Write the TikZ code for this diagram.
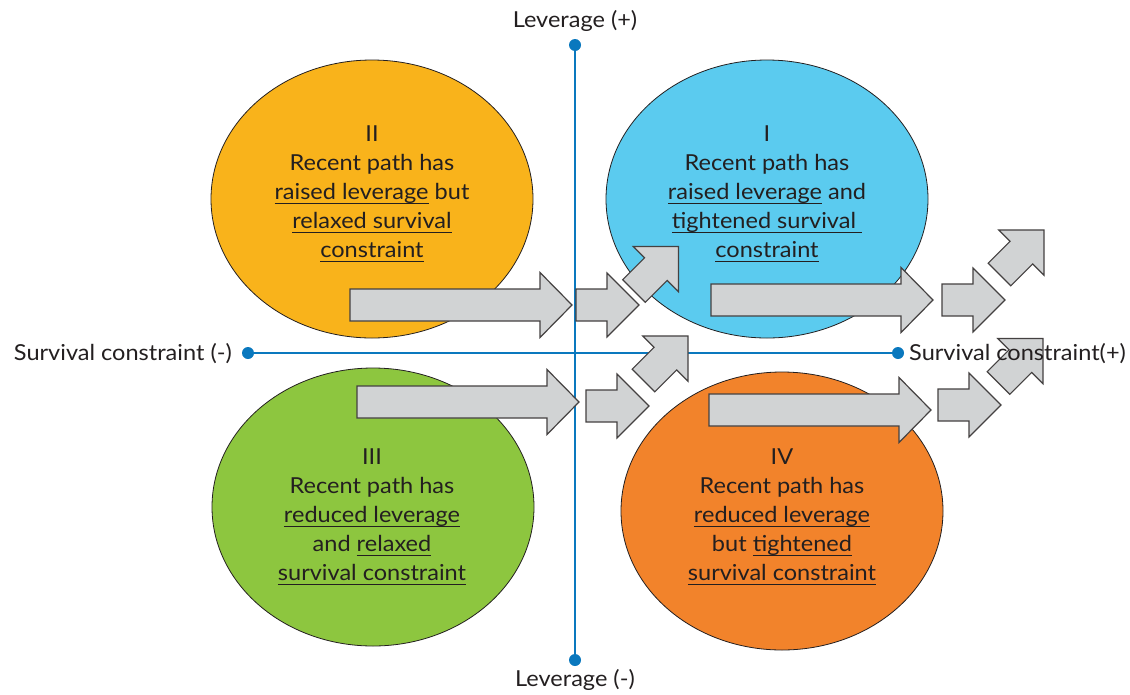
\documentclass[tikz,border=0pt]{standalone}
\usepackage{fontspec}
\setmainfont{Lato}[FakeStretch=1.07]
\usetikzlibrary{shapes.geometric}

\definecolor{qyellow}{HTML}{F9B31B}
\definecolor{qcyan}{HTML}{5BCBEF}
\definecolor{qgreen}{HTML}{8DC63F}
\definecolor{qorange}{HTML}{F2832B}
\definecolor{axisblue}{HTML}{0A78BE}
\definecolor{arrowgray}{HTML}{D1D3D4}
\definecolor{ink}{HTML}{231F20}

% underline at a fixed depth below the baseline
\newsavebox\ulbox
\newcommand\ulc[1]{\sbox\ulbox{#1}\rlap{\rule[-4.8pt]{\wd\ulbox}{1.2pt}}\usebox\ulbox}

\tikzset{
  quad/.style={ellipse, draw=ink, line width=0.8pt, minimum width=322pt, minimum height=278pt, inner sep=0pt},
  quadtext/.style={align=center, text=ink, font=\fontsize{22}{29}\selectfont, inner sep=0pt},
  axisline/.style={draw=axisblue, line width=2.4pt},
  axisdot/.style={circle, fill=axisblue, minimum size=12pt, inner sep=0pt},
  axislabel/.style={text=ink, font=\fontsize{22}{26}\selectfont, inner sep=0pt},
  blockarrow/.style={fill=arrowgray, draw=ink!85, line width=1.2pt, line join=miter},
  pics/bigarr/.style={code={
    \draw[blockarrow] (0,-16) -- (190,-16) -- (190,-32.5) -- (222,0)
      -- (190,32.5) -- (190,16) -- (0,16) -- cycle;}},
  pics/smallarr/.style={code={
    \draw[blockarrow] (0,-16) -- (31,-16) -- (31,-32) -- (63,0)
      -- (31,32) -- (31,16) -- (0,16) -- cycle;}},
}

\begin{document}
\begin{tikzpicture}[x=1pt, y=-1pt]
\useasboundingbox (0,0) rectangle (1130,694);

% quadrants
\node[quad, fill=qyellow] (q2) at (372,199) {};
\node[quad, fill=qcyan]   (q1) at (767,199) {};
\node[quad, fill=qgreen]  (q3) at (373,507) {};
\node[quad, fill=qorange] (q4) at (782,511) {};

% axes
\node[axisdot] (vtop) at (575,45) {};
\node[axisdot] (vbot) at (575,660) {};
\node[axisdot] (hleft) at (248,353) {};
\node[axisdot] (hright) at (898,353) {};
\draw[axisline] (vtop.center) -- (vbot.center);
\draw[axisline] (hleft.center) -- (hright.center);

% upper row of arrows
\pic at (350,305) {bigarr};
\pic at (576,305) {smallarr};
\pic[rotate=45] at (634,291) {smallarr};
\pic at (711,300) {bigarr};
\pic at (942,300) {smallarr};
\pic[rotate=45] at (999.5,274.5) {smallarr};

% lower row of arrows
\pic at (357,402) {bigarr};
\pic at (586,406) {smallarr};
\pic[rotate=45] at (643.5,380.5) {smallarr};
\pic at (709,410) {bigarr};
\pic at (938,405) {smallarr};
\pic[rotate=45] at (998.5,383) {smallarr};

% axis labels
\node[axislabel] (levplus) at (575,21) {Leverage (+)};
\node[axislabel] (levminus) at (575,680) {Leverage (-)};
\node[axislabel, anchor=east] (survminus) at (232,354) {Survival constraint (-)};
\node[axislabel, anchor=west] (survplus) at (909,354) {Survival constraint(+)};

% quadrant captions
\node[quadtext] (t2) at (372,194) {II\\Recent path has\\\ulc{raised leverage} but\\\ulc{relaxed survival}\\\ulc{constraint}};
\node[quadtext] (t1) at (767,194) {I\\Recent path has\\\ulc{raised leverage} and\\\ulc{tightened survival\ }\\\ulc{constraint}};
\node[quadtext] (t3) at (372,517) {III\\Recent path has\\\ulc{reduced leverage}\\and \ulc{relaxed}\\\ulc{survival constraint}};
\node[quadtext] (t4) at (782,517) {IV\\Recent path has\\\ulc{reduced leverage}\\but \ulc{tightened}\\\ulc{survival constraint}};
\end{tikzpicture}
\end{document}
